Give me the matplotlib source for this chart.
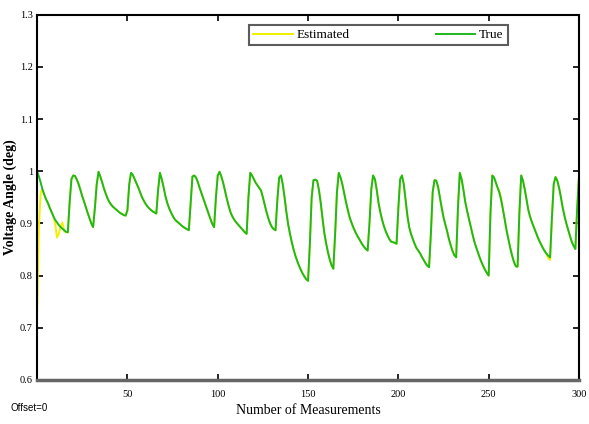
import numpy as np
import matplotlib.pyplot as plt

# True voltage angle (deg), one value per measurement 0..300
true_angle = [
    1.000, 0.990, 0.978, 0.965, 0.955, 0.946, 0.939, 0.930, 0.922, 0.914,   # 0
    0.907, 0.902, 0.897, 0.893, 0.890, 0.887, 0.884, 0.883, 0.940, 0.985,   # 10
    0.992, 0.991, 0.984, 0.975, 0.964, 0.952, 0.942, 0.931, 0.920, 0.910,   # 20
    0.900, 0.893, 0.930, 0.975, 0.999, 0.990, 0.979, 0.967, 0.957, 0.948,   # 30
    0.941, 0.936, 0.932, 0.929, 0.926, 0.923, 0.920, 0.918, 0.916, 0.915,   # 40
    0.925, 0.975, 0.997, 0.993, 0.985, 0.977, 0.969, 0.960, 0.951, 0.944,   # 50
    0.938, 0.933, 0.929, 0.926, 0.923, 0.921, 0.919, 0.965, 0.997, 0.985,   # 60
    0.970, 0.953, 0.940, 0.930, 0.922, 0.915, 0.909, 0.905, 0.902, 0.899,   # 70
    0.896, 0.893, 0.891, 0.889, 0.887, 0.940, 0.990, 0.992, 0.988, 0.979,   # 80
    0.968, 0.958, 0.948, 0.938, 0.928, 0.918, 0.908, 0.899, 0.893, 0.950,   # 90
    0.992, 0.999, 0.990, 0.978, 0.963, 0.948, 0.934, 0.922, 0.914, 0.908,   # 100
    0.903, 0.899, 0.895, 0.891, 0.887, 0.883, 0.880, 0.950, 0.997, 0.992,   # 110
    0.985, 0.978, 0.973, 0.968, 0.963, 0.950, 0.936, 0.922, 0.910, 0.900,   # 120
    0.893, 0.889, 0.887, 0.945, 0.988, 0.992, 0.975, 0.950, 0.922, 0.898,   # 130
    0.880, 0.864, 0.850, 0.838, 0.828, 0.819, 0.811, 0.804, 0.798, 0.793,   # 140
    0.790, 0.860, 0.950, 0.983, 0.984, 0.982, 0.965, 0.940, 0.910, 0.882,   # 150
    0.862, 0.845, 0.831, 0.820, 0.813, 0.880, 0.960, 0.997, 0.988, 0.975,   # 160
    0.958, 0.941, 0.926, 0.912, 0.902, 0.893, 0.885, 0.878, 0.872, 0.866,   # 170
    0.860, 0.855, 0.851, 0.848, 0.900, 0.965, 0.992, 0.985, 0.965, 0.940,   # 180
    0.922, 0.907, 0.895, 0.885, 0.877, 0.870, 0.865, 0.864, 0.863, 0.861,   # 190
    0.930, 0.985, 0.992, 0.975, 0.945, 0.915, 0.893, 0.880, 0.870, 0.861,   # 200
    0.853, 0.848, 0.843, 0.836, 0.830, 0.824, 0.819, 0.816, 0.880, 0.960,   # 210
    0.983, 0.982, 0.970, 0.950, 0.930, 0.912, 0.898, 0.885, 0.870, 0.858,   # 220
    0.847, 0.839, 0.835, 0.930, 0.997, 0.985, 0.965, 0.942, 0.925, 0.910,   # 230
    0.895, 0.880, 0.866, 0.855, 0.845, 0.835, 0.826, 0.818, 0.811, 0.805,   # 240
    0.800, 0.920, 0.992, 0.988, 0.978, 0.968, 0.958, 0.943, 0.925, 0.905,   # 250
    0.885, 0.868, 0.852, 0.838, 0.826, 0.818, 0.817, 0.920, 0.992, 0.982,   # 260
    0.965, 0.945, 0.925, 0.912, 0.902, 0.893, 0.884, 0.875, 0.867, 0.860,   # 270
    0.853, 0.847, 0.842, 0.838, 0.835, 0.910, 0.975, 0.989, 0.982, 0.968,   # 280
    0.950, 0.930, 0.914, 0.900, 0.888, 0.876, 0.865, 0.857, 0.851, 0.930,   # 290
    0.990,                                                                   # 300
]

# Samples where the estimate differs from the true angle
est_index = [0, 1, 2, 10, 11, 12, 13, 14, 15, 16, 256, 257, 283, 284]
est_value = [0.730, 0.895, 0.960, 0.900, 0.873, 0.880, 0.893, 0.902, 0.885, 0.883,
             0.962, 0.948, 0.833, 0.830]

x_ticks = [50, 100, 150, 200, 250, 300]
y_ticks = [0.6, 0.7, 0.8, 0.9, 1.0, 1.1, 1.2, 1.3]
y_labels = ['0.6', '0.7', '0.8', '0.9', '1', '1.1', '1.2', '1.3']

n = np.arange(len(true_angle))
estimated = np.array(true_angle, dtype=float)
estimated[est_index] = est_value

plt.rcParams['font.family'] = ['Liberation Serif', 'DejaVu Serif']

fig = plt.figure(figsize=(5.89, 4.24), dpi=100)
ax = fig.add_axes([0.063, 0.104, 0.920, 0.861])

ax.plot(n, estimated, color='#f0f000', linewidth=1.4, label='Estimated')
ax.plot(n, true_angle, color='#1fb81f', linewidth=1.4, label='True')

ax.set_xlim(0, 300)
ax.set_ylim(0.6, 1.3)
ax.set_xticks(x_ticks)
ax.set_yticks(y_ticks)
ax.set_yticklabels(y_labels)
ax.tick_params(direction='in', top=True, right=True, labelsize=7.5, length=4, width=1.2)
ax.tick_params(axis='x', pad=7)
ax.tick_params(axis='y', pad=3)

for side in ['top', 'left', 'right']:
    ax.spines[side].set_linewidth(1.5)
ax.spines['bottom'].set_linewidth(2.5)
ax.spines['bottom'].set_color('#666666')

ax.set_xlabel('Number of Measurements', fontsize=10, labelpad=4)
ax.set_ylabel('Voltage Angle (deg)', fontsize=10, fontweight='bold', labelpad=2)

leg = ax.legend(loc='upper center', bbox_to_anchor=(0.63, 0.99), ncol=2, fontsize=9.5,
                frameon=True, fancybox=False, edgecolor='#333333', handlelength=3,
                columnspacing=6.5, borderpad=0.3, handletextpad=0.3)
leg.get_frame().set_linewidth(1.5)

fig.text(0.017, 0.03, 'Offset=0', fontsize=7, family='Liberation Sans')

fig.savefig('out.png', dpi=100)
